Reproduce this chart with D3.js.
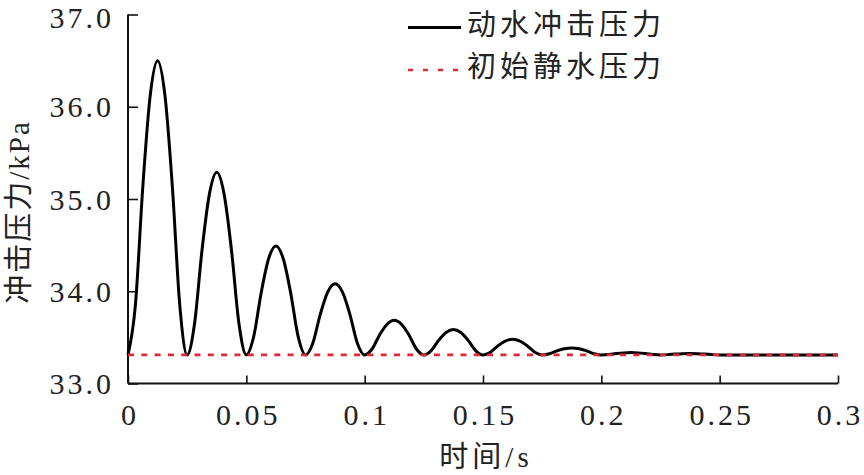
<!DOCTYPE html>
<html>
<head>
<meta charset="utf-8">
<script src="https://cdn.jsdelivr.net/npm/d3@7"></script>
<style>
  html, body { margin: 0; padding: 0; background: #fff; }
  svg { display: block; }
</style>
</head>
<body>
<svg id="chart" width="864" height="475"></svg>
<script>
// ---- data ----
const times = [
  0, 0.003125, 0.00625, 0.009375, 0.0125, 0.015625, 0.01875, 0.021875,
  0.025, 0.028125, 0.03125, 0.034375, 0.0375, 0.040625, 0.04375, 0.046875,
  0.05, 0.053125, 0.05625, 0.059375, 0.0625, 0.065625, 0.06875, 0.071875,
  0.075, 0.078125, 0.08125, 0.084375, 0.0875, 0.090625, 0.09375, 0.096875,
  0.1, 0.103125, 0.10625, 0.109375, 0.1125, 0.115625, 0.11875, 0.121875,
  0.125, 0.128125, 0.13125, 0.134375, 0.1375, 0.140625, 0.14375, 0.146875,
  0.15, 0.153125, 0.15625, 0.159375, 0.1625, 0.165625, 0.16875, 0.171875,
  0.175, 0.178125, 0.18125, 0.184375, 0.1875, 0.190625, 0.19375, 0.196875,
  0.2, 0.203125, 0.20625, 0.209375, 0.2125, 0.215625, 0.21875, 0.221875,
  0.225, 0.228125, 0.23125, 0.234375, 0.2375, 0.240625, 0.24375, 0.246875,
  0.25, 0.275, 0.3
];
const dynamicPressure = [
  33.31, 33.85, 35.13, 36.12, 36.50, 36.12, 35.13, 33.85,
  33.31, 33.65, 34.44, 35.05, 35.29, 35.05, 34.44, 33.65,
  33.31, 33.51, 33.98, 34.35, 34.49, 34.35, 33.98, 33.51,
  33.31, 33.44, 33.75, 33.99, 34.08, 33.99, 33.75, 33.44,
  33.31, 33.374, 33.524, 33.64, 33.685, 33.64, 33.524, 33.374,
  33.31, 33.357, 33.467, 33.552, 33.585, 33.552, 33.467, 33.357,
  33.31, 33.339, 33.407, 33.46, 33.48, 33.46, 33.407, 33.339,
  33.31, 33.323, 33.353, 33.376, 33.385, 33.376, 33.353, 33.323,
  33.31, 33.314, 33.324, 33.332, 33.335, 33.332, 33.324, 33.314,
  33.31, 33.313, 33.319, 33.323, 33.325, 33.323, 33.319, 33.313,
  33.31, 33.31, 33.31
];
const staticTimes = [0, 0.3];
const staticPressure = [33.31, 33.31];
const xTicks = [0, 0.05, 0.1, 0.15, 0.2, 0.25, 0.3];
const xTickLabels = ["0", "0.05", "0.1", "0.15", "0.2", "0.25", "0.3"];
const yTicks = [33, 34, 35, 36, 37];
const yTickLabels = ["33.0", "34.0", "35.0", "36.0", "37.0"];
const seriesNames = ["动水冲击压力", "初始静水压力"];
const xTitle = "时间/s";
const yTitle = "冲击压力/kPa";

// ---- layout ----
const svg = d3.select("#chart");
const x = d3.scaleLinear().domain([0, 0.3]).range([128, 838]);
const y = d3.scaleLinear().domain([33, 37]).range([383.5, 14.5]);
const FONT = "'Liberation Serif', 'Noto Sans CJK SC', serif";
const red = "#dc2a36";

// axes
const xAxis = d3.axisBottom(x).tickValues(xTicks).tickSize(-8).tickFormat("");
const yAxis = d3.axisLeft(y).tickValues(yTicks).tickSize(-10).tickFormat("");
const gx = svg.append("g").attr("transform", `translate(0,${y(33)})`).call(xAxis);
const gy = svg.append("g").attr("transform", `translate(${x(0)},0)`).call(yAxis);
[gx, gy].forEach(g => {
  g.select(".domain").attr("stroke", "#111").attr("stroke-width", 2);
  g.selectAll(".tick line").attr("stroke", "#111").attr("stroke-width", 1.6);
});
gx.select(".domain").attr("d", `M${x(0)},0H${x(0.3)}`);
gy.select(".domain").attr("d", `M0,${y(37)}V${y(33)}`);

// tick labels
svg.append("g").selectAll("text").data(xTicks).join("text")
  .attr("x", d => x(d) + 2)
  .attr("y", 425)
  .attr("text-anchor", "middle")
  .attr("font-family", FONT)
  .attr("font-size", 30)
  .attr("letter-spacing", 3)
  .attr("fill", "#222")
  .text((d, i) => xTickLabels[i]);

svg.append("g").selectAll("text").data(yTicks).join("text")
  .attr("x", 114)
  .attr("y", d => y(d) + (d === 37 ? 3 : 0))
  .attr("dy", "0.35em")
  .attr("text-anchor", "end")
  .attr("font-family", FONT)
  .attr("font-size", 30)
  .attr("letter-spacing", 3)
  .attr("fill", "#222")
  .text((d, i) => yTickLabels[i]);

// axis titles
svg.append("text")
  .attr("x", 486).attr("y", 467)
  .attr("text-anchor", "middle")
  .attr("font-family", FONT)
  .attr("font-size", 29)
  .attr("letter-spacing", 4)
  .attr("fill", "#222")
  .text(xTitle);

svg.append("text")
  .attr("transform", "translate(29,212) rotate(-90)")
  .attr("text-anchor", "middle")
  .attr("font-family", FONT)
  .attr("font-size", 29)
  .attr("letter-spacing", 2)
  .attr("fill", "#222")
  .text(yTitle);

// dynamic pressure
const pts = times.map((t, i) => [t, dynamicPressure[i]]);
const line = d3.line().x(d => x(d[0])).y(d => y(d[1])).curve(d3.curveMonotoneX);
svg.append("path")
  .attr("d", line(pts))
  .attr("fill", "none")
  .attr("stroke", "#000")
  .attr("stroke-width", 3)
  .attr("stroke-linejoin", "round");

// static pressure
const staticPts = staticTimes.map((t, i) => [t, staticPressure[i]]);
svg.append("path")
  .attr("d", d3.line().x(d => x(d[0])).y(d => y(d[1]))(staticPts))
  .attr("fill", "none")
  .attr("stroke", red)
  .attr("stroke-width", 2.7)
  .attr("stroke-dasharray", "6 7.3");

// legend
const lg = svg.append("g");
lg.append("line").attr("x1", 408).attr("x2", 461).attr("y1", 27.5).attr("y2", 27.5)
  .attr("stroke", "#000").attr("stroke-width", 3);
lg.append("line").attr("x1", 408).attr("x2", 461).attr("y1", 70).attr("y2", 70)
  .attr("stroke", red).attr("stroke-width", 2.5).attr("stroke-dasharray", "5 10");
lg.selectAll("text").data(seriesNames).join("text")
  .attr("x", 467)
  .attr("y", (d, i) => 25 + i * 42)
  .attr("dy", "0.36em")
  .attr("font-family", FONT)
  .attr("font-size", 29)
  .attr("letter-spacing", 4)
  .attr("fill", "#222")
  .text(d => d);
</script>
</body>
</html>
